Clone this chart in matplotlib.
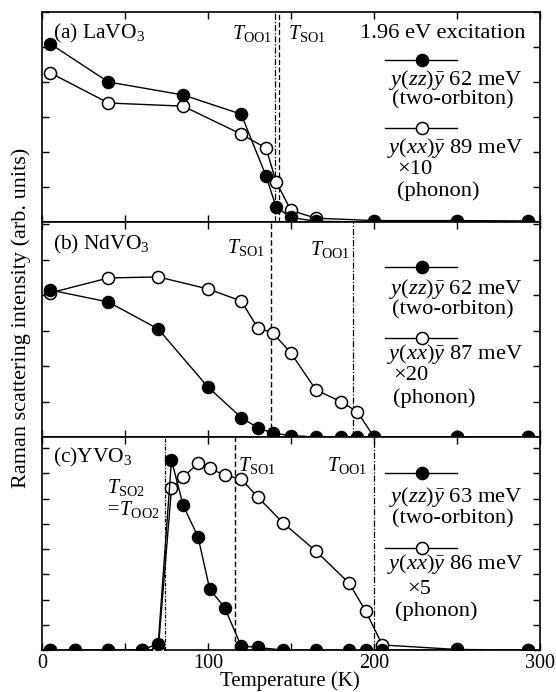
import matplotlib
matplotlib.use('Agg')
import matplotlib.pyplot as plt
from matplotlib.lines import Line2D
from matplotlib.ticker import MultipleLocator

plt.rcParams['font.family'] = ['Liberation Serif', 'DejaVu Serif']
plt.rcParams['mathtext.fontset'] = 'custom'
plt.rcParams['mathtext.rm'] = 'Liberation Serif'
plt.rcParams['mathtext.it'] = 'Liberation Serif:italic'
plt.rcParams['mathtext.bf'] = 'Liberation Serif:bold'

# ---------------- data ----------------
# (a) LaVO3
la_T = [5, 40, 85, 120, 135, 141, 150, 165, 200, 250, 293]
la_zz = [5.09, 4.00, 3.63, 3.08, 1.31, 0.43, 0.13, 0.02, 0.0, 0.0, 0.0]
la_xx = [4.26, 3.40, 3.31, 2.51, 2.11, 1.15, 0.33, 0.11, 0.04, 0.04, 0.03]
la_lines = [140.5, 142.5]          # T_OO1, T_SO1

# (b) NdVO3
nd_T = [5, 40, 70, 100, 120, 130, 139, 150, 165, 180, 190, 200, 250, 293]
nd_zz = [4.15, 3.81, 3.05, 1.41, 0.55, 0.26, 0.11, 0.04, 0.0, 0.0, 0.0, 0.0, 0.0, 0.0]
nd_xx = [4.07, 4.49, 4.52, 4.18, 3.84, 3.08, 2.94, 2.37, 1.33, 1.00, 0.71, 0.0, 0.0, 0.0]
nd_lines = [138, 187.5]            # T_SO1, T_OO1

# (c) YVO3
y_T = [5, 20, 40, 60, 70, 78, 85, 94, 101, 110, 120, 130, 145, 165, 185, 195, 205, 250, 293]
y_zz = [0, 0, 0, 0, 0.24, 7.52, 5.74, 4.48, 2.42, 1.68, 0.16, 0.10, 0, 0, 0, 0, 0, 0, 0]
y_xx = [0, 0, 0, 0, 0.0, 6.40, 6.85, 7.40, 7.20, 6.93, 6.77, 6.06, 5.05, 3.92, 2.65, 1.54, 0.20, 0.02, 0.0]
y_lines = [74, 116, 200]           # T_SO2=T_OO2, T_SO1, T_OO1

x_ticks = [0, 100, 200, 300]

# ---------------- figure ----------------
W, H = 556, 692
fig = plt.figure(figsize=(W / 100, H / 100), dpi=100)


def rect(l, t, r, b):
    return [l / W, 1 - b / H, (r - l) / W, (b - t) / H]


def fxy(x, y):
    return x / W, 1 - y / H


FS = 14.5      # ticks, T labels
FL = 16.2      # legend texts
FP = 15.5      # panel labels
ax_a = fig.add_axes(rect(42, 12, 540, 222))
ax_b = fig.add_axes(rect(42, 222, 540, 437))
ax_c = fig.add_axes(rect(42, 437, 540, 650))

panels = [
    (ax_a, la_T, la_zz, la_xx, 6.0),
    (ax_b, nd_T, nd_zz, nd_xx, 6.07),
    (ax_c, y_T, y_zz, y_xx, 8.44),
]

for ax, T, zz, xx, ytop in panels:
    ax.plot(T, xx, '-o', color='k', lw=1.0, ms=8.7, mfc='white', mec='k', mew=1.1, zorder=3)
    ax.plot(T, zz, '-o', color='k', lw=1.0, ms=8.7, mfc='k', mec='k', zorder=4)
    ax.set_xlim(0, 300)
    ax.set_ylim(0, ytop)
    ax.xaxis.set_major_locator(MultipleLocator(100))
    ax.xaxis.set_minor_locator(MultipleLocator(50))
    ax.yaxis.set_major_locator(MultipleLocator(1))
    ax.tick_params(which='both', direction='in', top=True, right=True,
                   length=5, width=1.0, labelsize=FS, pad=3)
    ax.set_yticklabels([])
    for s in ax.spines.values():
        s.set_linewidth(1.2)

ax_a.set_xticklabels([])
ax_b.set_xticklabels([])
ax_c.set_xticks(x_ticks)
ax_c.set_xticklabels([str(v) for v in x_ticks])

dash = (0, (4, 2))
dashdot = (0, (5, 1.5, 1, 1.5))
dashdotdot = (0, (3, 1.2, 1, 1.2))

# vertical transition lines
ax_a.axvline(la_lines[0], color='k', lw=0.9, ls=dashdot, zorder=2)
ax_a.axvline(la_lines[1], color='k', lw=0.9, ls=dash, zorder=2)
ax_b.axvline(nd_lines[0], color='k', lw=1.0, ls=dash, zorder=2)
ax_b.axvline(nd_lines[1], color='k', lw=0.9, ls=dashdot, zorder=2)
ax_c.axvline(y_lines[0], color='k', lw=0.9, ls=dashdotdot, zorder=2)
ax_c.axvline(y_lines[1], color='k', lw=1.0, ls=dash, zorder=2)
ax_c.axvline(y_lines[2], color='k', lw=0.9, ls=dashdot, zorder=2)


def ftext(x, y, s, ha='left', va='center', fs=FS, **kw):
    fig.text(*fxy(x, y), s, ha=ha, va=va, fontsize=fs, **kw)


# panel labels
ftext(53, 33, r'(a) LaVO$_3$', fs=FP)
ftext(53, 244, r'(b) NdVO$_3$', fs=FP)
ftext(53, 457, r'(c)YVO$_3$', fs=FP)

# transition labels
ftext(232, 33, r'$T_{\rm OO1}$')
ftext(288, 33, r'$T_{\rm SO1}$')
ftext(227, 247, r'$T_{\rm SO1}$')
ftext(310, 249, r'$T_{\rm OO1}$')
ftext(107, 488, r'$T_{\rm SO2}$')
ftext(105, 510, r'$=\!T_{\rm OO2}$')
ftext(238, 465, r'$T_{\rm SO1}$')
ftext(327, 465, r'$T_{\rm OO1}$')


# legends
def legend_key(y, filled):
    fig.add_artist(Line2D([385 / W, 457 / W], [1 - y / H] * 2, transform=fig.transFigure,
                          color='k', lw=1.0))
    fig.add_artist(Line2D([422 / W], [1 - y / H], transform=fig.transFigure,
                          marker='o', ms=8.7, mfc='k' if filled else 'white', mec='k',
                          mew=1.1, ls='none'))


ftext(360, 33, '1.96 eV excitation', fs=FL)
legend_key(60, True)
ftext(523, 80, r'$y(zz)\bar{y}$ 62 meV', ha='right', fs=FL)
ftext(392, 100, '(two-orbiton)', fs=FL)
legend_key(128, False)
ftext(523, 148, r'$y(xx)\bar{y}$ 89 meV', ha='right', fs=FL)
ftext(397, 169, '×10', fs=FL)
ftext(397, 191, '(phonon)', fs=FL)

legend_key(267, True)
ftext(523, 289, r'$y(zz)\bar{y}$ 62 meV', ha='right', fs=FL)
ftext(392, 310, '(two-orbiton)', fs=FL)
legend_key(338, False)
ftext(523, 354, r'$y(xx)\bar{y}$ 87 meV', ha='right', fs=FL)
ftext(393, 376, '×20', fs=FL)
ftext(393, 398, '(phonon)', fs=FL)

legend_key(473, True)
ftext(523, 497, r'$y(zz)\bar{y}$ 63 meV', ha='right', fs=FL)
ftext(392, 519, '(two-orbiton)', fs=FL)
legend_key(548, False)
ftext(523, 564, r'$y(xx)\bar{y}$ 86 meV', ha='right', fs=FL)
ftext(407, 589, '×5', fs=FL)
ftext(395, 611, '(phonon)', fs=FL)

# axis labels
ftext(290, 691, 'Temperature (K)', ha='center', va='bottom', fs=15)
fig.text(*fxy(21, 318), 'Raman scattering intensity (arb. units)', rotation=90,
         ha='center', va='center', fontsize=16)

fig.savefig('out.png', dpi=100)
